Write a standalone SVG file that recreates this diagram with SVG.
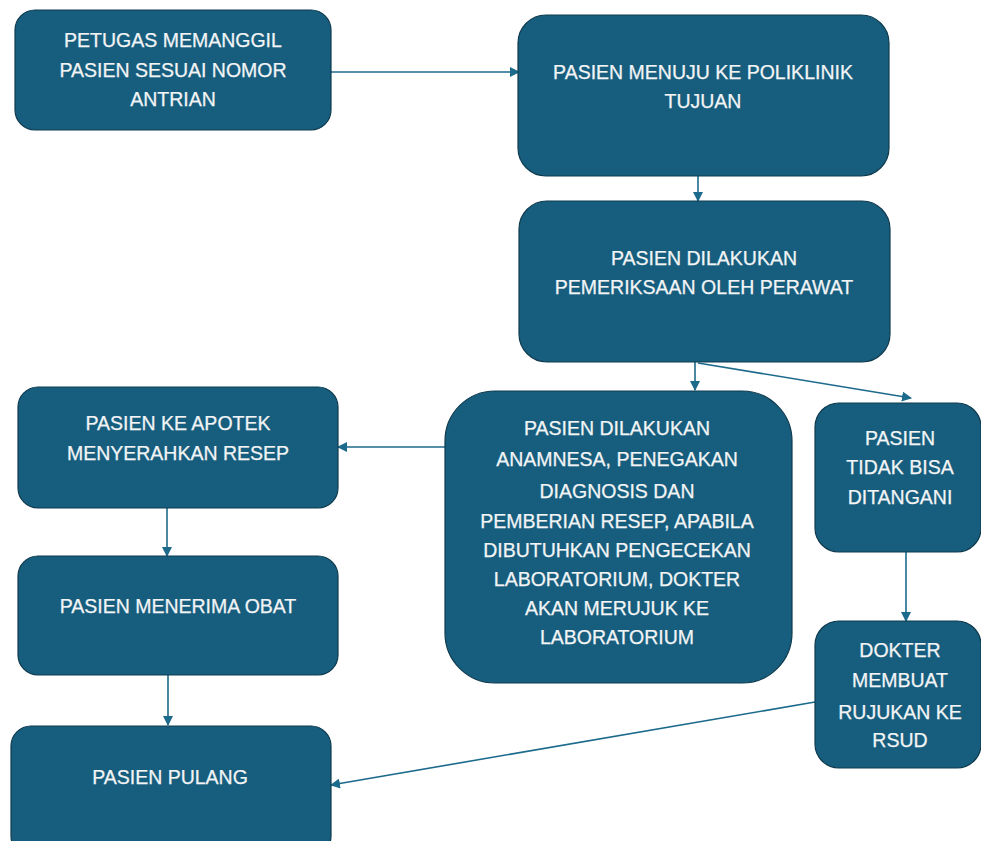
<svg xmlns="http://www.w3.org/2000/svg" width="981" height="841" viewBox="0 0 981 841">
<defs>
<style>
.box{fill:#175e7e;stroke:#0e3a4e;stroke-width:1.2}
.t{font-family:"Liberation Sans",Arial,sans-serif;font-size:19.5px;fill:#f2f4f5;text-anchor:middle;stroke:#f2f4f5;stroke-width:0.25}
.c{stroke:#1c6a8c;stroke-width:1.6;fill:none;marker-end:url(#ah)}
</style>
<marker id="ah" viewBox="0 0 10 10" refX="9" refY="5" markerWidth="10" markerHeight="10" markerUnits="userSpaceOnUse" orient="auto">
<path d="M0,0 L10,5 L0,10 z" fill="#1c6a8c"/>
</marker>
</defs>
<rect width="981" height="841" fill="#ffffff"/>
<g id="connectors">
<line class="c" x1="331" y1="72" x2="519" y2="72"/>
<line class="c" x1="698" y1="176" x2="698" y2="201"/>
<line class="c" x1="695" y1="362" x2="695" y2="390"/>
<line class="c" x1="698" y1="363" x2="911" y2="398"/>
<line class="c" x1="445" y1="447" x2="338" y2="447"/>
<line class="c" x1="167" y1="508" x2="167" y2="556"/>
<line class="c" x1="168" y1="675" x2="168" y2="725"/>
<line class="c" x1="906" y1="552" x2="906" y2="621"/>
<line class="c" x1="815" y1="702" x2="331" y2="785"/>
</g>
<g id="n1">
<rect class="box" x="15" y="10" width="316" height="120" rx="20"/>
<text class="t" x="173" y="47">PETUGAS MEMANGGIL</text>
<text class="t" x="173" y="77">PASIEN SESUAI NOMOR</text>
<text class="t" x="173" y="106">ANTRIAN</text>
</g>
<g id="n2">
<rect class="box" x="518" y="15" width="371" height="161" rx="28"/>
<text class="t" x="703" y="79">PASIEN MENUJU KE POLIKLINIK</text>
<text class="t" x="703" y="108">TUJUAN</text>
</g>
<g id="n3">
<rect class="box" x="519" y="201" width="371" height="161" rx="28"/>
<text class="t" x="704" y="265">PASIEN DILAKUKAN</text>
<text class="t" x="704" y="294">PEMERIKSAAN OLEH PERAWAT</text>
</g>
<g id="n4">
<rect class="box" x="445" y="391" width="347" height="292" rx="50"/>
<text class="t" x="617" y="435">PASIEN DILAKUKAN</text>
<text class="t" x="617" y="466">ANAMNESA, PENEGAKAN</text>
<text class="t" x="617" y="498">DIAGNOSIS DAN</text>
<text class="t" x="617" y="528">PEMBERIAN RESEP, APABILA</text>
<text class="t" x="617" y="557">DIBUTUHKAN PENGECEKAN</text>
<text class="t" x="617" y="586">LABORATORIUM, DOKTER</text>
<text class="t" x="617" y="615">AKAN MERUJUK KE</text>
<text class="t" x="617" y="644">LABORATORIUM</text>
</g>
<g id="n5">
<rect class="box" x="815" y="403" width="166" height="149" rx="24"/>
<text class="t" x="900" y="445">PASIEN</text>
<text class="t" x="900" y="474">TIDAK BISA</text>
<text class="t" x="900" y="504">DITANGANI</text>
</g>
<g id="n6">
<rect class="box" x="815" y="621" width="166" height="147" rx="24"/>
<text class="t" x="900" y="657">DOKTER</text>
<text class="t" x="900" y="687">MEMBUAT</text>
<text class="t" x="900" y="719">RUJUKAN KE</text>
<text class="t" x="900" y="747">RSUD</text>
</g>
<g id="n7">
<rect class="box" x="18" y="387" width="320" height="121" rx="20"/>
<text class="t" x="178" y="430">PASIEN KE APOTEK</text>
<text class="t" x="178" y="460">MENYERAHKAN RESEP</text>
</g>
<g id="n8">
<rect class="box" x="18" y="556" width="320" height="119" rx="20"/>
<text class="t" x="178" y="613">PASIEN MENERIMA OBAT</text>
</g>
<g id="n9">
<rect class="box" x="11" y="726" width="320" height="130" rx="20"/>
<text class="t" x="170" y="784">PASIEN PULANG</text>
</g>
</svg>
